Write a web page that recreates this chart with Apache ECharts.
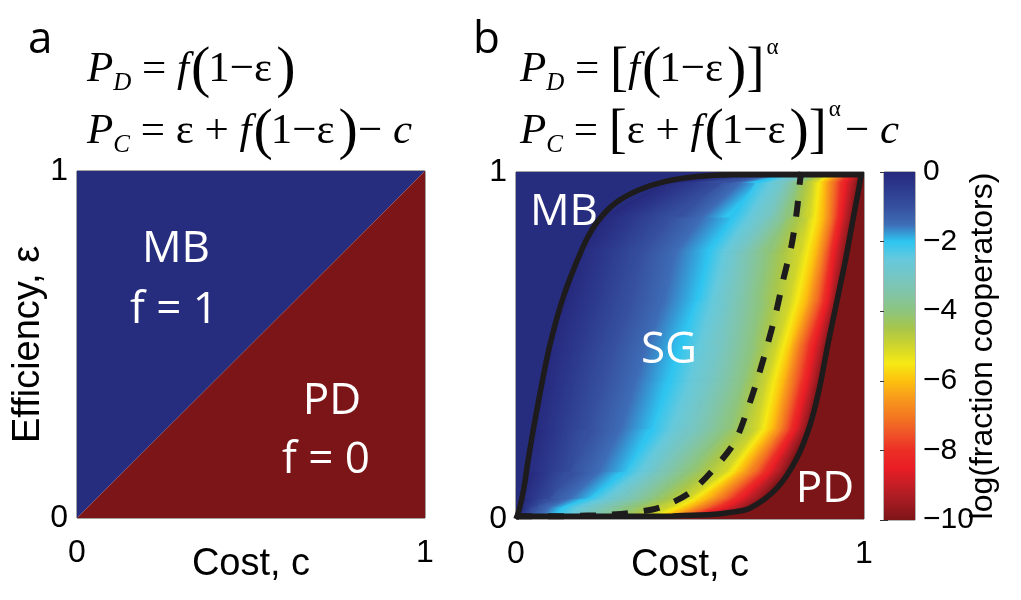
<!DOCTYPE html>
<html>
<head>
<meta charset="utf-8">
<script src="https://cdn.jsdelivr.net/npm/echarts@6/dist/echarts.min.js"></script>
<style>
html, body { margin: 0; padding: 0; background: #fff; }
#main { width: 1021px; height: 600px; }
</style>
</head>
<body>
<div id="main"></div>
<script>
// panel a: border between MB and PD (c = e)
var aLineCost = [0, 1];
var aLineEff = [0, 1];

// panel b: solid MB/SG border, solid SG/PD border, dashed curve
var mbCost = [0, 0.010, 0.022, 0.035, 0.050, 0.068, 0.080, 0.097, 0.115, 0.138, 0.167, 0.200, 0.235, 0.285, 0.353, 0.430, 0.520, 0.620, 1.0];
var mbEff  = [0, 0.030, 0.085, 0.170, 0.260, 0.357, 0.420, 0.500, 0.570, 0.646, 0.723, 0.800, 0.858, 0.910, 0.948, 0.973, 0.987, 0.992, 0.992];
var pdCost = [0, 0.15, 0.30, 0.45, 0.55, 0.61, 0.672, 0.749, 0.807, 0.845, 0.872, 0.895, 0.922, 0.948, 0.969, 0.982, 0.992];
var pdEff  = [0.008, 0.008, 0.008, 0.009, 0.012, 0.018, 0.031, 0.088, 0.175, 0.271, 0.377, 0.497, 0.627, 0.752, 0.867, 0.935, 0.992];
var dashCost = [0.0, 0.12, 0.228, 0.324, 0.412, 0.497, 0.57, 0.629, 0.668, 0.696, 0.722, 0.749, 0.768, 0.792, 0.807, 0.816, 0.82];
var dashEff  = [0.008, 0.008, 0.011, 0.017, 0.033, 0.074, 0.146, 0.223, 0.324, 0.41, 0.50, 0.603, 0.69, 0.79, 0.887, 0.973, 1.0];

// log(fraction cooperators): cost where each level 0,-1,...,-10 sits, per efficiency row
var levels = [0, -1, -2, -3, -4, -5, -6, -7, -8, -9, -10];
var rowEff = [0, 0.035, 0.06, 0.136, 0.26, 0.4, 0.5, 0.63, 0.77, 0.87, 0.97, 1];
var rowCost = [
  [0.000, 0.030, 0.100, 0.180, 0.270, 0.360, 0.410, 0.450, 0.480, 0.510, 0.550],
  [0.015, 0.060, 0.135, 0.230, 0.330, 0.440, 0.495, 0.540, 0.585, 0.630, 0.680],
  [0.019, 0.100, 0.209, 0.300, 0.400, 0.490, 0.545, 0.590, 0.630, 0.670, 0.715],
  [0.031, 0.160, 0.314, 0.400, 0.490, 0.600, 0.640, 0.680, 0.715, 0.745, 0.780],
  [0.050, 0.210, 0.391, 0.500, 0.610, 0.690, 0.735, 0.765, 0.790, 0.815, 0.840],
  [0.075, 0.250, 0.439, 0.560, 0.655, 0.720, 0.765, 0.795, 0.825, 0.850, 0.874],
  [0.097, 0.280, 0.470, 0.585, 0.680, 0.750, 0.790, 0.815, 0.845, 0.870, 0.895],
  [0.135, 0.330, 0.519, 0.610, 0.700, 0.785, 0.830, 0.860, 0.885, 0.905, 0.922],
  [0.185, 0.360, 0.557, 0.640, 0.720, 0.815, 0.860, 0.885, 0.905, 0.925, 0.950],
  [0.250, 0.450, 0.620, 0.720, 0.780, 0.840, 0.880, 0.905, 0.925, 0.945, 0.969],
  [0.430, 0.600, 0.690, 0.770, 0.810, 0.855, 0.885, 0.910, 0.935, 0.960, 0.985],
  [0.700, 0.750, 0.800, 0.840, 0.870, 0.900, 0.920, 0.940, 0.960, 0.980, 1.000]
];

// colour bar, from 0 down to -10 in steps of 0.5
var barColors = ['#26297d', '#2d3b8e', '#36509f', '#3e6cb6', '#2ec5f1', '#65c9dc', '#75c6c4',
  '#82c5a6', '#8dc57e', '#a8c64a', '#cfd52c', '#f6e914', '#fdc10e', '#f89a1c', '#f47a20',
  '#f05528', '#ec2e26', '#ea1d25', '#c41e26', '#a11b21', '#7d1517'];
var barMin = -10;
var barMax = 0;

var mbColor = '#272d7e';
var pdColor = '#7c1517';
var lineColor = '#1d1b1b';
var fontSans = '"Liberation Sans", Arial, sans-serif';
var fontSerif = '"Liberation Serif", "Times New Roman", serif';
var fontLabel = '"Open Sans", sans-serif';

function pairs(xs, ys) {
  var out = [];
  for (var i = 0; i < xs.length; i++) out.push([xs[i], ys[i]]);
  return out;
}

var measureCtx = document.createElement('canvas').getContext('2d');
// distance from the 'middle' line to the alphabetic baseline
function baseOffset(font, size) {
  measureCtx.font = font;
  measureCtx.textBaseline = 'alphabetic';
  var a = measureCtx.measureText('Hx').fontBoundingBoxAscent;
  measureCtx.textBaseline = 'middle';
  var m = measureCtx.measureText('Hx').fontBoundingBoxAscent;
  if (a == null || m == null) return 0.3 * size;
  return a - m;
}
function textAt(str, x, base, size, family, style, color, align) {
  var font = (style ? style + ' ' : '') + size + 'px ' + family;
  return {
    type: 'text', x: x, y: base - baseOffset(font, size), z: 100,
    style: { text: str, font: font, fill: color || '#000', align: align || 'left', verticalAlign: 'middle' }
  };
}
// tokens: [text, italic, size, dy, extra space after]
function formula(x0, base, tokens) {
  var items = [];
  var x = x0;
  for (var i = 0; i < tokens.length; i++) {
    var t = tokens[i];
    var style = t[1] ? 'italic' : '';
    items.push(textAt(t[0], x, base + (t[3] || 0), t[2], fontSerif, style));
    measureCtx.font = (style ? style + ' ' : '') + t[2] + 'px ' + fontSerif;
    x += measureCtx.measureText(t[0]).width + (t[4] || 0);
  }
  return items;
}

var fA1 = [['P', 1, 43], ['D', 1, 25, 9], [' = ', 0, 43], ['f', 1, 43, 0, 2], ['(', 0, 58, 5, -2], ['1', 0, 43],
  ['\u2212', 0, 43], ['\u03b5', 0, 43, 0, 4], [')', 0, 58, 5]];
var fA2 = [['P', 1, 43], ['C', 1, 25, 9], [' = ', 0, 43], ['\u03b5', 0, 43], [' + ', 0, 43], ['f', 1, 43, 0, 2],
  ['(', 0, 58, 5, -2], ['1', 0, 43], ['\u2212', 0, 43], ['\u03b5', 0, 43, 0, 4], [')', 0, 58, 5], ['\u2212 ', 0, 43], ['c', 1, 43]];
var fB1 = [['P', 1, 43], ['D', 1, 25, 9], [' = ', 0, 43], ['[', 0, 54, 4], ['f', 1, 43, 0, 2], ['(', 0, 58, 5, -2],
  ['1', 0, 43], ['\u2212', 0, 43], ['\u03b5', 0, 43, 0, 4], [')', 0, 58, 5], [']', 0, 54, 4, 2], ['\u03b1', 0, 23, -27]];
var fB2 = [['P', 1, 43], ['C', 1, 25, 9], [' = ', 0, 43], ['[', 0, 54, 4], ['\u03b5', 0, 43], [' + ', 0, 43],
  ['f', 1, 43, 0, 2], ['(', 0, 58, 5, -2], ['1', 0, 43], ['\u2212', 0, 43], ['\u03b5', 0, 43, 0, 4], [')', 0, 58, 5],
  [']', 0, 54, 4, 2], ['\u03b1', 0, 23, -27, 4], ['\u2212 ', 0, 43], ['c', 1, 43]];

// one quad of the colour field: band k (between level k and k+1) and row j
function renderBand(params, api) {
  var n = rowEff.length - 1;
  var k = Math.floor(params.dataIndex / n);
  var j = params.dataIndex % n;
  var last = k >= levels.length - 1;
  var a = api.coord([rowCost[j][k], rowEff[j]]);
  var b = api.coord([last ? 1 : rowCost[j][k + 1], rowEff[j]]);
  var c = api.coord([last ? 1 : rowCost[j + 1][k + 1], rowEff[j + 1]]);
  var d = api.coord([rowCost[j + 1][k], rowEff[j + 1]]);
  var fill;
  if (last) {
    fill = pdColor;
  } else {
    // gradient across the band, perpendicular to its edges
    var ux = ((d[0] - a[0]) + (c[0] - b[0])) / 2;
    var uy = ((d[1] - a[1]) + (c[1] - b[1])) / 2;
    var len = Math.sqrt(ux * ux + uy * uy) || 1;
    var nx = -uy / len, ny = ux / len;
    var m1 = [(a[0] + d[0]) / 2, (a[1] + d[1]) / 2];
    var m2 = [(b[0] + c[0]) / 2, (b[1] + c[1]) / 2];
    var dist = (m2[0] - m1[0]) * nx + (m2[1] - m1[1]) * ny;
    if (dist < 0) { nx = -nx; ny = -ny; dist = -dist; }
    if (dist < 1) dist = 1;
    fill = new echarts.graphic.LinearGradient(m1[0], m1[1], m1[0] + nx * dist, m1[1] + ny * dist, [
      { offset: 0, color: barColors[2 * k] },
      { offset: 0.5, color: barColors[2 * k + 1] },
      { offset: 1, color: barColors[2 * k + 2] }
    ], true);
  }
  return {
    type: 'polygon',
    shape: { points: [a, b, c, d] },
    style: { fill: fill, stroke: fill, lineWidth: 1 }
  };
}

function renderBar(params, api) {
  var p0 = api.coord([0, barMax]);
  var p1 = api.coord([1, barMin]);
  var stops = [];
  for (var i = 0; i < barColors.length; i++) {
    stops.push({ offset: i / (barColors.length - 1), color: barColors[i] });
  }
  return {
    type: 'rect',
    shape: { x: p0[0], y: p0[1], width: p1[0] - p0[0], height: p1[1] - p0[1] },
    style: { fill: new echarts.graphic.LinearGradient(0, 0, 0, 1, stops) }
  };
}

function unitAxis(grid, name, isY) {
  var ax = {
    gridIndex: grid, type: 'value', min: 0, max: 1, interval: 1,
    axisLine: { show: false }, axisTick: { show: false }, splitLine: { show: false },
    axisLabel: { fontSize: 32, color: '#000', fontFamily: fontSans, margin: isY ? 9 : 19 }
  };
  if (name) {
    ax.name = name;
    ax.nameLocation = 'middle';
    ax.nameGap = isY ? 29 : 28;
    ax.nameMoveOverlap = false;
    ax.nameTextStyle = { fontSize: 38, color: '#000', fontFamily: fontSans };
  }
  return ax;
}

var bandData = [];
for (var i = 0; i < levels.length * (rowEff.length - 1); i++) bandData.push(i);

var graphics = [
  textAt('a', 28, 53, 44, fontLabel),
  textAt('b', 473, 53, 44, fontLabel),
  textAt('MB', 176, 262, 44, fontLabel, '', '#fff', 'center'),
  textAt('f = 1', 174, 323, 44, fontLabel, '', '#fff', 'center'),
  textAt('PD', 332, 414, 44, fontLabel, '', '#fff', 'center'),
  textAt('f = 0', 326, 473, 44, fontLabel, '', '#fff', 'center'),
  textAt('MB', 564, 225, 44, fontLabel, '', '#fff', 'center'),
  textAt('SG', 669, 363, 44, fontLabel, '', '#fff', 'center'),
  textAt('PD', 825, 502, 44, fontLabel, '', '#fff', 'center')
].concat(formula(87, 81, fA1), formula(87, 143, fA2), formula(520, 81, fB1), formula(520, 143, fB2));

var chart = echarts.init(document.getElementById('main'));
var option = {
  animation: false,
  grid: [
    { left: 77, top: 171, width: 348, height: 347, show: true, borderColor: '#444', borderWidth: 1, backgroundColor: 'transparent' },
    { left: 516, top: 172, width: 348, height: 347, show: true, borderColor: '#444', borderWidth: 1, backgroundColor: mbColor },
    { left: 884, top: 172, width: 31, height: 348, show: true, borderColor: '#666', borderWidth: 1, backgroundColor: 'transparent' }
  ],
  xAxis: [
    unitAxis(0, 'Cost, c', false),
    unitAxis(1, 'Cost, c', false),
    { gridIndex: 2, type: 'value', min: 0, max: 1, show: false }
  ],
  yAxis: [
    unitAxis(0, 'Efficiency, \u03b5', true),
    unitAxis(1, '', true),
    {
      gridIndex: 2, type: 'value', min: barMin, max: barMax, interval: 2, position: 'right',
      axisLine: { show: false }, splitLine: { show: false },
      axisTick: { show: true, inside: true, length: 4, lineStyle: { color: '#333' } },
      axisLabel: {
        fontSize: 30, color: '#000', fontFamily: fontSans, margin: 8,
        formatter: function (v) { return v < 0 ? '\u2212' + (-v) : String(v); }
      },
      name: 'log(fraction cooperators)', nameLocation: 'middle', nameGap: 52, nameMoveOverlap: false,
      nameTextStyle: { fontSize: 32, color: '#000', fontFamily: fontSans }
    },
    {
      gridIndex: 2, type: 'value', min: barMin, max: barMax, interval: 2, position: 'left',
      axisLine: { show: false }, splitLine: { show: false }, axisLabel: { show: false },
      axisTick: { show: true, inside: true, length: 4, lineStyle: { color: '#333' } }
    }
  ],
  series: [
    {
      name: 'a MB', type: 'line', xAxisIndex: 0, yAxisIndex: 0, symbol: 'none', z: 2,
      data: pairs(aLineCost, aLineEff), lineStyle: { width: 0, opacity: 0 },
      areaStyle: { color: mbColor, opacity: 1, origin: 'end' }
    },
    {
      name: 'a PD', type: 'line', xAxisIndex: 0, yAxisIndex: 0, symbol: 'none', z: 2,
      data: pairs(aLineCost, aLineEff), lineStyle: { width: 0, opacity: 0 },
      areaStyle: { color: pdColor, opacity: 1, origin: 'start' }
    },
    {
      name: 'b field', type: 'custom', xAxisIndex: 1, yAxisIndex: 1, z: 2, clip: true,
      data: bandData, renderItem: renderBand
    },
    {
      name: 'b MB', type: 'line', xAxisIndex: 1, yAxisIndex: 1, symbol: 'none', z: 3,
      smooth: 0.3, data: pairs(mbCost, mbEff),
      lineStyle: { color: lineColor, width: 5.5 },
      areaStyle: { color: mbColor, opacity: 1, origin: 'end' }
    },
    {
      name: 'b PD', type: 'line', xAxisIndex: 1, yAxisIndex: 1, symbol: 'none', z: 3,
      smooth: 0.3, data: pairs(pdCost, pdEff),
      lineStyle: { color: lineColor, width: 5.5 },
      areaStyle: { color: pdColor, opacity: 1, origin: 'start' }
    },
    {
      name: 'b dashed', type: 'line', xAxisIndex: 1, yAxisIndex: 1, symbol: 'none', z: 4,
      smooth: 0.3, data: pairs(dashCost, dashEff),
      lineStyle: { color: lineColor, width: 6, type: [16, 16], cap: 'butt' }
    },
    {
      name: 'colour bar', type: 'custom', xAxisIndex: 2, yAxisIndex: 2, z: 2,
      data: [0], renderItem: renderBar
    }
  ],
  graphic: graphics
};
chart.setOption(option);
</script>
</body>
</html>
